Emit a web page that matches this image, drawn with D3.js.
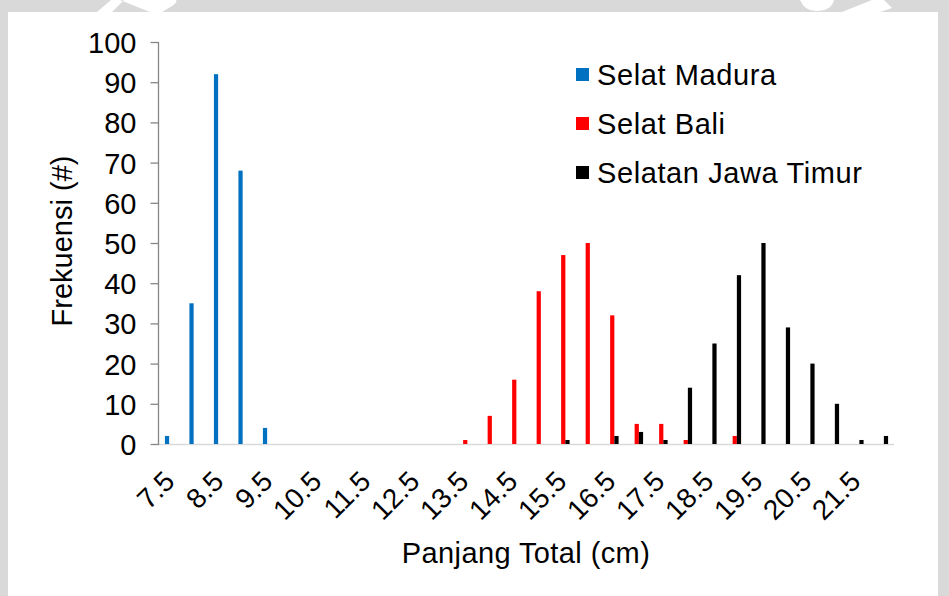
<!DOCTYPE html>
<html>
<head>
<meta charset="utf-8">
<script src="https://cdn.jsdelivr.net/npm/d3@7/dist/d3.min.js"></script>
<style>
  html, body { margin: 0; padding: 0; background: #d9d9d9; }
  svg { display: block; }
  text { font-family: "Liberation Sans", Arial, sans-serif; fill: #000; }
</style>
</head>
<body>
<svg id="chart" width="949" height="596"></svg>
<script>
// Length classes (cm)
const categories = ["7.5","8","8.5","9","9.5","10","10.5","11","11.5","12","12.5","13","13.5","14","14.5","15","15.5","16","16.5","17","17.5","18","18.5","19","19.5","20","20.5","21","21.5","22"];

// Frequency per length class, one array per location
const selatMadura      = [2,35,92,68,4,0,0,0,0,0,0,0,0,0,0,0,0,0,0,0,0,0,0,0,0,0,0,0,0,0];
const selatBali        = [0,0,0,0,0,0,0,0,0,0,0,0,1,7,16,38,47,50,32,5,5,1,0,2,0,0,0,0,0,0];
const selatanJawaTimur = [0,0,0,0,0,0,0,0,0,0,0,0,0,0,0,0,1,0,2,3,1,14,25,42,50,29,20,10,1,2];

const seriesNames  = ["Selat Madura", "Selat Bali", "Selatan Jawa Timur"];
const seriesColors = ["#0070c0", "#ff0000", "#000000"];

const xTickLabels = ["7.5","8.5","9.5","10.5","11.5","12.5","13.5","14.5","15.5","16.5","17.5","18.5","19.5","20.5","21.5"];
const yTickValues = [0,10,20,30,40,50,60,70,80,90,100];

const seriesValues = [selatMadura, selatBali, selatanJawaTimur];

const svg = d3.select("#chart");

// Panel background
svg.append("rect").attr("x", 0).attr("y", 0).attr("width", 949).attr("height", 596).attr("fill", "#d9d9d9");
svg.append("rect").attr("x", 8).attr("y", 12).attr("width", 930).attr("height", 584).attr("fill", "#ffffff");
// light shapes in the top border strip
svg.append("path").attr("fill", "#ffffff")
  .attr("d", "M97,12 L111,0 L124,0 L112,12 Z M120,0 L150,12 L162,12 L172,6 Q178,2 176,0 Z");
svg.append("path").attr("fill", "#ffffff")
  .attr("d", "M800,0 Q805,12 818,11 Q832,10 834,0 Z M842,12 L872,0 L884,0 L892,8 L880,12 Z");

const plotLeft = 159, plotRight = 894, plotTop = 42, plotBottom = 444;

const x = d3.scaleBand().domain(categories).range([plotLeft, plotRight]).paddingInner(0).paddingOuter(0);
const x1 = d3.scaleBand().domain(seriesNames).range([0, x.bandwidth()]).paddingInner(0).paddingOuter(1.4);
const y = d3.scaleLinear().domain([0, 100]).range([plotBottom, plotTop]);

// X axis line
svg.append("line")
  .attr("x1", plotLeft - 1).attr("x2", plotRight)
  .attr("y1", plotBottom + 0.5).attr("y2", plotBottom + 0.5)
  .attr("stroke", "#d9d9d9").attr("stroke-width", 1.5);

// Bars
seriesNames.forEach((name, si) => {
  const rows = categories.map((c, i) => ({ c, v: seriesValues[si][i] })).filter(d => d.v > 0);
  svg.append("g").selectAll("rect").data(rows).join("rect")
    .attr("x", d => x(d.c) + x1(name))
    .attr("width", x1.bandwidth())
    .attr("y", d => y(d.v))
    .attr("height", d => y(0) - y(d.v))
    .attr("fill", seriesColors[si]);
});

// Y axis
const yAxis = svg.append("g")
  .attr("transform", `translate(${plotLeft - 0.5},0)`)
  .call(d3.axisLeft(y).tickValues(yTickValues).tickSize(8).tickSizeOuter(0).tickPadding(14));
yAxis.selectAll("path, line").attr("stroke", "#868686").attr("stroke-width", 1.3);
yAxis.select(".domain").attr("d", `M0,${plotTop}V${plotBottom + 1}`);
yAxis.selectAll("text").attr("font-size", 29).attr("font-family", "Liberation Sans, Arial, sans-serif").attr("fill", "#000").attr("dy", "0.36em");

// X tick labels (rotated)
const xAxis = svg.append("g")
  .attr("transform", `translate(0,${plotBottom})`)
  .call(d3.axisBottom(x).tickValues(xTickLabels).tickSize(0).tickSizeOuter(0));
xAxis.select(".domain").remove();
xAxis.selectAll("text")
  .attr("font-size", 28)
  .attr("font-family", "Liberation Sans, Arial, sans-serif")
  .attr("fill", "#000")
  .attr("text-anchor", "end")
  .attr("y", 0).attr("dy", 0)
  .attr("transform", "translate(5,39) rotate(-45)");

// Axis titles
svg.append("text")
  .attr("x", 526).attr("y", 563)
  .attr("text-anchor", "middle").attr("font-size", 29)
  .attr("letter-spacing", 0.4)
  .text("Panjang Total (cm)");
svg.append("text")
  .attr("transform", "translate(72,241) rotate(-90)")
  .attr("text-anchor", "middle").attr("font-size", 29)
  .text("Frekuensi (#)");

// Legend
const legend = svg.append("g");
seriesNames.forEach((name, i) => {
  const baseY = 85 + i * 49;
  legend.append("rect")
    .attr("x", 576).attr("y", baseY - 17).attr("width", 13).attr("height", 13)
    .attr("fill", seriesColors[i]);
  legend.append("text")
    .attr("x", 597).attr("y", baseY)
    .attr("font-size", 29)
    .attr("letter-spacing", 0.6)
    .text(name);
});
</script>
</body>
</html>
